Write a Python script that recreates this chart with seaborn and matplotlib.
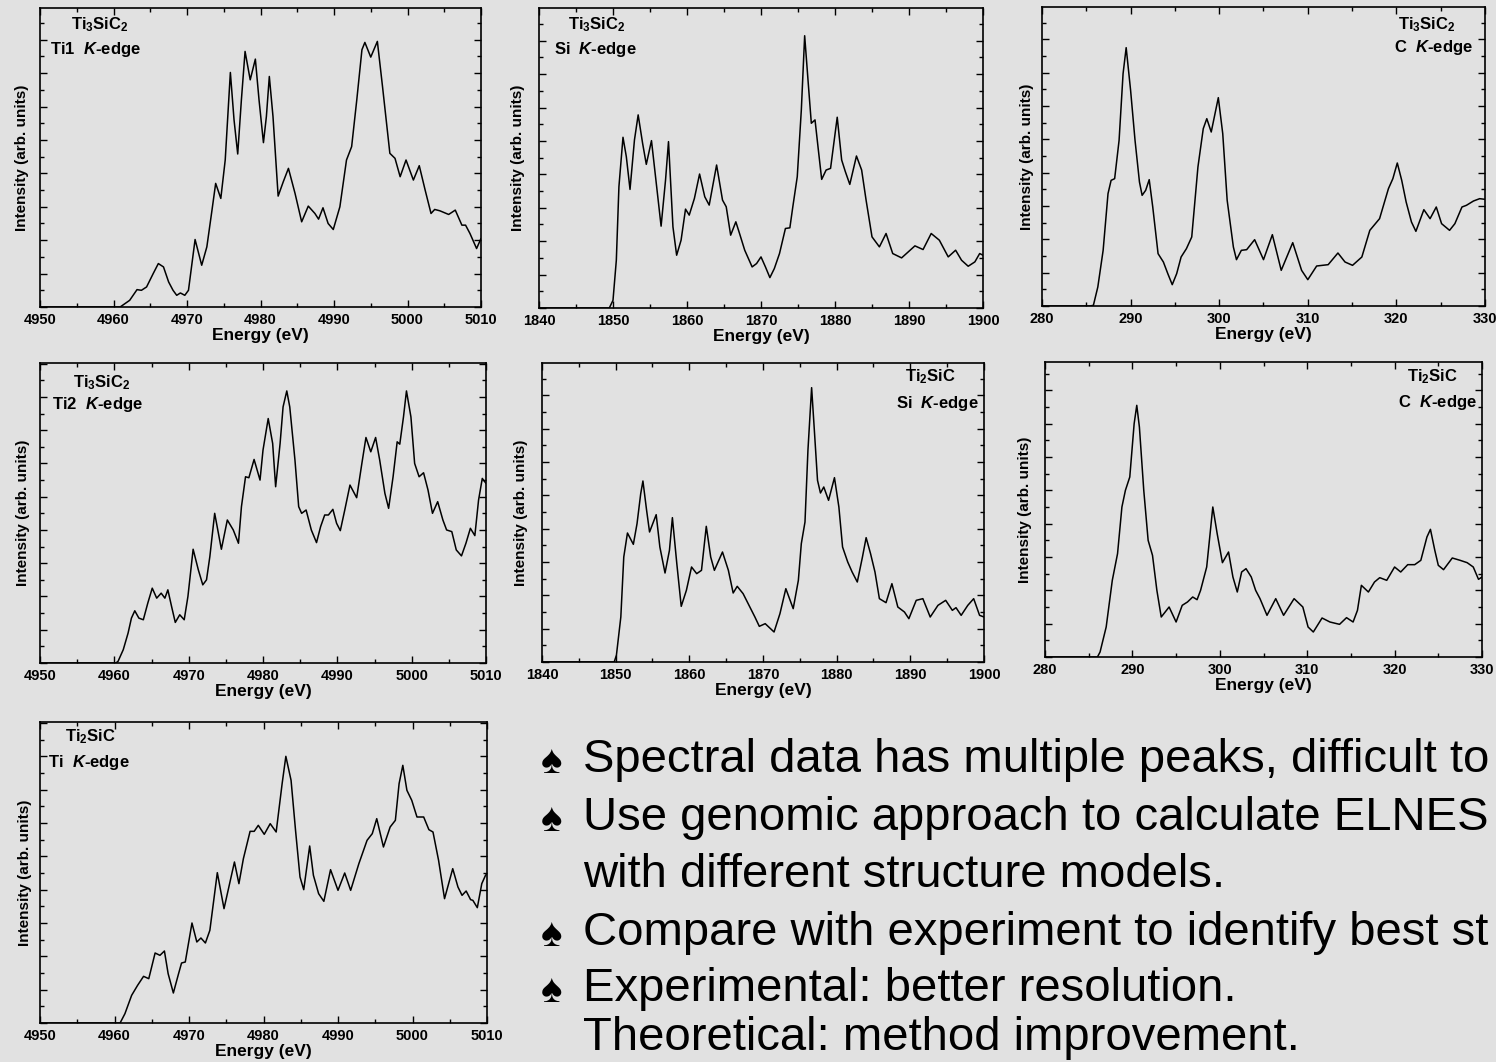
import matplotlib
matplotlib.use('Agg')
import matplotlib.pyplot as plt
import seaborn as sns
import pandas as pd
from matplotlib.ticker import MultipleLocator

sns.set_theme(style='ticks')
BG = '#e1e1e1'
plt.rcParams['font.family'] = ['Liberation Sans', 'DejaVu Sans']
plt.rcParams.update({
    'font.weight': 'bold',
    'mathtext.fontset': 'custom',
    'mathtext.rm': 'Liberation Sans:bold',
    'mathtext.it': 'Liberation Sans:italic:bold',
    'mathtext.bf': 'Liberation Sans:bold',
    'mathtext.default': 'rm',
    'axes.facecolor': BG,
    'figure.facecolor': BG,
    'text.color': 'black',
    'axes.labelcolor': 'black',
    'xtick.color': 'black',
    'ytick.color': 'black',
    'xtick.labelcolor': 'black',
})

# ---------------- data ----------------
ti1_energy = [4950, 4960.9, 4962.2, 4963.2, 4963.8, 4964.5, 4965.4, 4966.1, 4966.8, 4967.5, 4968.1, 4968.6, 4969.1,
              4969.7, 4970.2, 4971.1, 4972.0, 4972.7, 4973.4, 4973.9, 4974.6, 4975.2, 4975.9, 4976.4, 4976.9, 4977.4,
              4977.9, 4978.6, 4979.3, 4979.8, 4980.4, 4980.8, 4981.2, 4981.7, 4982.4, 4983.1, 4983.8, 4984.7, 4985.6,
              4986.5, 4987.4, 4987.9, 4988.5, 4989.2, 4989.9, 4990.8, 4991.7, 4992.4, 4993.1, 4993.8, 4994.2, 4995.0,
              4995.9, 4996.6, 4997.6, 4998.3, 4999.0, 4999.8, 5000.8, 5001.6, 5002.4, 5003.2, 5003.7, 5004.4, 5005.6,
              5006.5, 5007.4, 5007.9, 5008.5, 5009.4, 5010]
ti1_intensity = [0, 0, 20, 52, 50, 60, 100, 130, 120, 75, 50, 35, 42, 35, 50, 202, 125, 180, 290, 370, 325, 440, 702,
                 560, 458, 620, 765, 680, 742, 620, 492, 570, 690, 570, 332, 375, 415, 340, 255, 302, 280, 263, 297,
                 250, 232, 300, 440, 480, 620, 770, 792, 748, 795, 660, 460, 445, 390, 440, 380, 423, 350, 280, 292,
                 288, 277, 290, 245, 245, 220, 175, 205]

si3_energy = [1840, 1849.5, 1850.0, 1850.45, 1850.8, 1851.35, 1851.8, 1852.3, 1852.9, 1853.4, 1854.0, 1854.5, 1855.2,
              1855.9, 1856.5, 1857.1, 1857.5, 1858.1, 1858.6, 1859.2, 1859.8, 1860.3, 1861.0, 1861.7, 1862.4, 1863.0,
              1864.0, 1864.8, 1865.3, 1865.9, 1866.6, 1867.1, 1867.8, 1868.8, 1869.4, 1870.0, 1870.6, 1871.2, 1871.8,
              1872.5, 1873.3, 1873.9, 1874.3, 1874.9, 1875.45, 1875.9, 1876.35, 1876.8, 1877.3, 1877.7, 1878.2, 1878.8,
              1879.4, 1879.9, 1880.3, 1880.9, 1881.4, 1882.0, 1882.9, 1883.6, 1884.2, 1885.0, 1886.0, 1886.9, 1887.8,
              1889.0, 1889.9, 1890.8, 1891.9, 1893.0, 1894.1, 1895.3, 1896.3, 1897.1, 1898.0, 1898.9, 1899.55, 1900]
si3_intensity = [0, 0, 23, 143, 363, 511, 453, 355, 503, 578, 493, 430, 501, 363, 245, 383, 498, 243, 158, 203, 296,
                 278, 328, 401, 333, 308, 428, 323, 303, 218, 258, 223, 173, 123, 133, 153, 123, 91, 118, 163, 238,
                 240, 303, 393, 593, 815, 683, 553, 563, 483, 385, 413, 418, 503, 571, 443, 408, 370, 455, 413, 323,
                 213, 183, 223, 163, 150, 168, 186, 175, 223, 203, 153, 173, 143, 125, 138, 163, 158]

c3_energy = [280, 285.4, 285.8, 286.3, 286.9, 287.45, 287.8, 288.2, 288.7, 289.15, 289.5, 290.0, 290.5, 291.0, 291.3,
             291.7, 292.1, 292.5, 293.1, 293.7, 294.2, 294.7, 295.2, 295.7, 296.3, 296.9, 297.6, 298.2, 298.6, 299.1,
             299.9, 300.4, 300.9, 301.6, 301.95, 302.5, 303.1, 304.0, 305.0, 306.0, 307.0, 308.3, 309.3, 310.0, 311.0,
             312.3, 313.4, 314.2, 315.05, 316.1, 317.0, 318.1, 319.1, 319.6, 320.1, 320.6, 321.1, 321.7, 322.2, 323.1,
             323.8, 324.5, 325.1, 326.0, 326.6, 327.4, 327.9, 328.7, 329.4, 330]
c3_intensity = [0, 0, 2, 57, 167, 337, 377, 382, 497, 697, 775, 647, 497, 372, 332, 347, 379, 297, 157, 132, 97, 64,
                97, 147, 172, 207, 417, 532, 562, 522, 625, 517, 317, 177, 139, 167, 169, 199, 139, 214, 107, 190,
                107, 79, 120, 124, 159, 132, 122, 147, 227, 262, 352, 382, 429, 377, 312, 252, 224, 289, 262, 297,
                247, 227, 247, 297, 302, 315, 322, 320]

ti2_energy = [4950, 4960.2, 4960.5, 4961.2, 4961.85, 4962.3, 4962.75, 4963.3, 4963.9, 4964.5, 4965.1, 4965.7, 4966.3,
              4966.8, 4967.2, 4967.7, 4968.2, 4968.8, 4969.4, 4969.9, 4970.6, 4971.3, 4971.9, 4972.4, 4972.85, 4973.5,
              4974.4, 4975.2, 4976.0, 4976.7, 4977.1, 4977.65, 4978.1, 4978.8, 4979.6, 4980.0, 4980.7, 4981.3, 4981.7,
              4982.3, 4982.7, 4983.2, 4983.6, 4984.3, 4984.8, 4985.2, 4985.8, 4986.5, 4987.2, 4987.75, 4988.3, 4988.8,
              4989.4, 4989.9, 4990.4, 4991.0, 4991.7, 4992.6, 4993.3, 4993.85, 4994.5, 4995.15, 4995.7, 4996.4,
              4996.9, 4997.5, 4998.05, 4998.4, 4998.9, 4999.3, 4999.9, 5000.4, 5001.0, 5001.6, 5002.2, 5002.8,
              5003.5, 5004.2, 5004.7, 5005.4, 5006.0, 5006.7, 5007.3, 5007.9, 5008.5, 5009.0, 5009.5, 5010]
ti2_intensity = [0, 0, 5, 40, 90, 135, 157, 135, 130, 180, 225, 195, 210, 195, 220, 170, 122, 145, 130, 200, 342, 280,
                 235, 250, 320, 450, 342, 430, 400, 360, 470, 560, 557, 612, 550, 640, 735, 660, 530, 660, 770, 818,
                 770, 610, 470, 450, 460, 400, 362, 410, 445, 445, 462, 420, 398, 460, 535, 497, 600, 678, 635, 678,
                 610, 510, 465, 560, 665, 658, 740, 818, 740, 600, 560, 572, 520, 450, 485, 430, 400, 395, 340, 322,
                 360, 405, 383, 490, 555, 540]

si2_energy = [1840, 1849.8, 1850.1, 1850.7, 1851.1, 1851.6, 1852.4, 1852.9, 1853.4, 1853.7, 1854.2, 1854.6, 1855.5,
              1856.0, 1856.7, 1857.3, 1857.7, 1858.3, 1858.9, 1859.6, 1860.3, 1861.0, 1861.65, 1862.3, 1862.9, 1863.4,
              1864.5, 1865.3, 1865.95, 1866.5, 1867.3, 1868.1, 1868.9, 1869.5, 1870.3, 1871.5, 1872.3, 1873.1, 1874.1,
              1874.8, 1875.2, 1875.7, 1876.1, 1876.6, 1877.0, 1877.4, 1877.8, 1878.25, 1878.9, 1879.7, 1880.3, 1880.8,
              1881.5, 1882.1, 1882.8, 1883.5, 1884.0, 1884.6, 1885.2, 1885.8, 1886.7, 1887.5, 1888.3, 1889.2, 1889.8,
              1890.8, 1891.7, 1892.7, 1893.75, 1894.8, 1895.7, 1896.2, 1896.9, 1897.8, 1898.6, 1899.4, 1900]
si2_intensity = [0, 0, 20, 135, 315, 387, 353, 415, 505, 543, 455, 390, 442, 345, 267, 335, 433, 295, 167, 215, 285,
                 265, 275, 407, 315, 275, 330, 275, 207, 227, 205, 170, 135, 107, 115, 90, 145, 220, 160, 245, 355,
                 420, 635, 823, 685, 545, 507, 525, 485, 553, 465, 345, 300, 270, 240, 315, 373, 325, 270, 190, 178,
                 235, 165, 150, 130, 185, 190, 135, 170, 185, 155, 163, 140, 170, 190, 140, 135]

c2_energy = [280, 286.0, 286.3, 287.0, 287.7, 288.3, 288.8, 289.2, 289.7, 290.2, 290.5, 290.8, 291.3, 291.8, 292.3,
             292.8, 293.3, 294.2, 295.0, 295.7, 296.3, 296.9, 297.4, 297.8, 298.5, 299.2, 299.7, 300.3, 301.0, 301.5,
             302.0, 302.5, 303.0, 303.6, 304.1, 304.6, 305.4, 306.4, 307.3, 308.5, 309.5, 310.1, 310.7, 311.7, 312.6,
             313.7, 314.5, 315.25, 315.75, 316.2, 317.0, 317.7, 318.3, 319.1, 320.0, 320.7, 321.5, 322.3, 323.0,
             323.7, 324.1, 324.6, 325.0, 325.6, 326.6, 327.5, 328.3, 329.0, 329.6, 330]
c2_intensity = [0, 0, 15, 90, 230, 310, 450, 500, 540, 700, 755, 690, 500, 350, 305, 200, 120, 150, 105, 155, 165,
                180, 172, 200, 270, 450, 370, 283, 315, 240, 195, 255, 265, 240, 200, 175, 125, 175, 125, 175, 150,
                90, 75, 117, 105, 98, 118, 105, 140, 215, 195, 225, 238, 230, 270, 255, 277, 277, 290, 360, 383, 320,
                275, 262, 297, 290, 283, 270, 233, 240]

ti_energy = [4950, 4960.75, 4961.4, 4962.3, 4963.1, 4963.9, 4964.6, 4965.45, 4966.1, 4966.7, 4967.2, 4967.9, 4968.6,
             4969.0, 4969.5, 4970.4, 4971.05, 4971.6, 4972.2, 4972.8, 4973.8, 4974.7, 4975.5, 4976.1, 4976.7, 4977.3,
             4978.2, 4978.75, 4979.3, 4980.1, 4980.9, 4981.7, 4982.5, 4983.0, 4983.7, 4984.3, 4984.9, 4985.4, 4986.2,
             4986.7, 4987.4, 4988.1, 4989.0, 4990.0, 4990.9, 4991.7, 4992.8, 4993.9, 4994.6, 4995.2, 4996.1, 4997.0,
             4997.7, 4998.2, 4998.7, 4999.25, 4999.9, 5000.6, 5001.5, 5002.2, 5002.75, 5003.5, 5004.3, 5005.4,
             5006.1, 5006.65, 5007.2, 5007.8, 5008.1, 5008.7, 5009.3, 5009.8, 5010]
ti_intensity = [0, 0, 28, 83, 113, 140, 133, 210, 203, 216, 148, 90, 148, 180, 183, 300, 243, 255, 240, 278, 451, 343,
                423, 483, 418, 493, 575, 575, 593, 566, 598, 573, 718, 800, 728, 578, 438, 400, 531, 443, 388, 365,
                460, 398, 450, 398, 478, 548, 568, 613, 528, 588, 608, 718, 773, 698, 668, 618, 618, 580, 573, 488,
                373, 463, 408, 383, 396, 370, 368, 346, 418, 443, 448]

ti_range = (4950, 5010)
si_range = (1840, 1900)
c_range = (280, 330)

compound_labels = [r"Ti$_3$SiC$_2$", r"Ti$_3$SiC$_2$", r"Ti$_3$SiC$_2$",
                   r"Ti$_3$SiC$_2$", r"Ti$_2$SiC", r"Ti$_2$SiC", r"Ti$_2$SiC"]
edge_labels = [r"Ti1  $\mathit{K}$-edge", r"Si  $\mathit{K}$-edge", r"C  $\mathit{K}$-edge",
               r"Ti2  $\mathit{K}$-edge", r"Si  $\mathit{K}$-edge", r"C  $\mathit{K}$-edge",
               r"Ti  $\mathit{K}$-edge"]

bullets = ["Spectral data has multiple peaks, difficult to",
           "Use genomic approach to calculate ELNES",
           "with different structure models.",
           "Compare with experiment to identify best st",
           "Experimental: better resolution.",
           "Theoretical: method improvement."]
bullet_marks = [True, True, False, True, True, False]

# ---------------- layout ----------------
W, H = 1496, 1062


def rect(l, r, t, b):
    return [l / W, 1 - b / H, (r - l) / W, (b - t) / H]


panels = [
    dict(e=ti1_energy, i=ti1_intensity, xr=ti_range, ymax=895, rect=rect(40, 481, 8, 307),
         c1=(0.136, 0.943, 'center'), c2=(0.023, 0.86, 'left'), lp=8),
    dict(e=si3_energy, i=si3_intensity, xr=si_range, ymax=898, rect=rect(539, 983, 8, 308),
         c1=(0.13, 0.943, 'center'), c2=(0.034, 0.863, 'left'), lp=10),
    dict(e=c3_energy, i=c3_intensity, xr=c_range, ymax=897, rect=rect(1042, 1485, 7, 306),
         c1=(0.869, 0.94, 'center'), c2=(0.973, 0.863, 'right'), lp=6),
    dict(e=ti2_energy, i=ti2_intensity, xr=ti_range, ymax=902, rect=rect(40, 486, 363, 663),
         c1=(0.139, 0.933, 'center'), c2=(0.027, 0.86, 'left'), lp=7),
    dict(e=si2_energy, i=si2_intensity, xr=si_range, ymax=897, rect=rect(542, 984, 363, 662),
         c1=(0.878, 0.953, 'center'), c2=(0.989, 0.863, 'right'), lp=10),
    dict(e=c2_energy, i=c2_intensity, xr=c_range, ymax=885, rect=rect(1045, 1482, 362, 657),
         c1=(0.886, 0.952, 'center'), c2=(0.989, 0.864, 'right'), lp=9),
    dict(e=ti_energy, i=ti_intensity, xr=ti_range, ymax=903, rect=rect(40, 487, 722, 1023),
         c1=(0.112, 0.95, 'center'), c2=(0.018, 0.864, 'left'), lp=6),
]

fig = plt.figure(figsize=(W / 100, H / 100), dpi=100)

for k, p in enumerate(panels):
    ax = fig.add_axes(p['rect'])
    df = pd.DataFrame({'Energy': p['e'], 'Intensity': p['i']})
    sns.lineplot(data=df, x='Energy', y='Intensity', ax=ax, color='black',
                 linewidth=1.1, estimator=None, sort=False)
    ax.set_xlim(*p['xr'])
    ax.set_ylim(0, p['ymax'])
    ax.xaxis.set_major_locator(MultipleLocator(10))
    ax.xaxis.set_minor_locator(MultipleLocator(5))
    ax.yaxis.set_major_locator(MultipleLocator(100))
    ax.yaxis.set_minor_locator(MultipleLocator(50))
    ax.tick_params(which='both', direction='in', top=True, right=True,
                   labelleft=False, color='black', width=1.0)
    ax.tick_params(which='major', length=5, labelsize=10.5, pad=4)
    ax.tick_params(which='minor', length=3)
    for s in ax.spines.values():
        s.set_linewidth(1.2)
        s.set_color('black')
    ax.set_xlabel('Energy (eV)', fontsize=12.5, fontweight='bold', labelpad=1)
    ax.set_ylabel('Intensity (arb. units)', fontsize=11, fontweight='bold',
                  labelpad=p['lp'])
    x1, y1, ha1 = p['c1']
    ax.text(x1, y1, compound_labels[k], transform=ax.transAxes, ha=ha1,
            va='center', fontsize=12, fontweight='bold')
    x2, y2, ha2 = p['c2']
    ax.text(x2, y2, edge_labels[k], transform=ax.transAxes, ha=ha2,
            va='center', fontsize=12, fontweight='bold')

baselines = [772, 830, 887, 945, 1001, 1050]
for txt, mark, yb in zip(bullets, bullet_marks, baselines):
    if mark:
        fig.text(541 / W, 1 - (yb + 1) / H, '\u2660', fontsize=29, fontweight='normal',
                 va='baseline', ha='left', family=['Liberation Sans', 'DejaVu Sans'])
    fig.text(583 / W, 1 - yb / H, txt, fontsize=34, fontweight='normal',
             va='baseline', ha='left')

fig.savefig('out.png', dpi=100, facecolor=BG)
